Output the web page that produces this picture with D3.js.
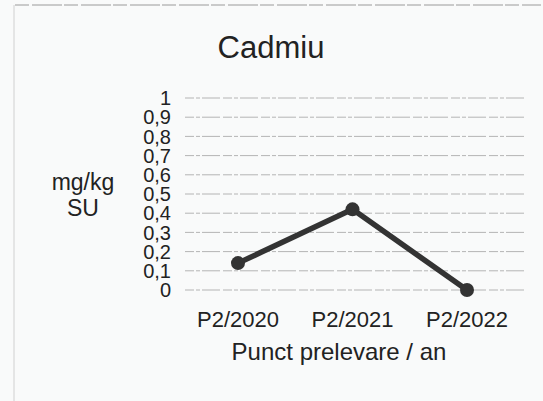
<!DOCTYPE html>
<html>
<head>
<meta charset="utf-8">
<script src="https://cdn.jsdelivr.net/npm/d3@7"></script>
<style>
  body { margin: 0; background: #fafafa; }
  text { font-family: "Liberation Sans", Arial, sans-serif; fill: #222; }
</style>
</head>
<body>
<div id="chart"></div>
<script>
const categories = ["P2/2020", "P2/2021", "P2/2022"]
const values = [0.14, 0.42, 0.0]
const tickValues = [0, 0.1, 0.2, 0.3, 0.4, 0.5, 0.6, 0.7, 0.8, 0.9, 1]

const width = 543
const height = 401

const svg = d3.select("#chart")
    .append("svg")
    .attr("width", width)
    .attr("height", height)

// frame of the scanned box
svg.append("rect")
    .attr("x", 0).attr("y", 0)
    .attr("width", width).attr("height", height)
    .attr("fill", "#f9fafa")
svg.append("line")
    .attr("x1", 15).attr("x2", 541).attr("y1", 5).attr("y2", 5)
    .attr("stroke", "#9a9a9a").attr("stroke-width", 1)
    .attr("stroke-dasharray", "14 3 30 2")
svg.append("line")
    .attr("x1", 14).attr("x2", 14).attr("y1", 5).attr("y2", 401)
    .attr("stroke", "#d0d0d0").attr("stroke-width", 1)

let y = d3.scaleLinear().domain([0, 1]).range([290, 98])
let x = d3.scalePoint().domain(categories).range([238, 467])

// gridlines
svg.append("g")
    .selectAll("line")
    .data(tickValues)
    .enter().append("line")
    .attr("x1", 185).attr("x2", 527)
    .attr("y1", d => y(d)).attr("y2", d => y(d))
    .attr("stroke", "#b4b4b4")
    .attr("stroke-width", 1)
    .attr("stroke-dasharray", "9 2 4 2 18 3")

// y tick labels, stacked tight like the original
const fmt = d => d3.format(".1~f")(d).replace(".", ",")
svg.append("g")
    .selectAll("text")
    .data(tickValues)
    .enter().append("text")
    .attr("x", 171)
    .attr("y", d => y(d))
    .attr("dy", "0.36em")
    .attr("text-anchor", "end")
    .attr("font-size", 20)
    .text(fmt)

// y axis title
svg.append("text")
    .attr("x", 83).attr("y", 190)
    .attr("text-anchor", "middle")
    .attr("font-size", 23)
    .text("mg/kg")
svg.append("text")
    .attr("x", 83).attr("y", 216)
    .attr("text-anchor", "middle")
    .attr("font-size", 23)
    .text("SU")

// x tick labels
svg.append("g")
    .selectAll("text")
    .data(categories)
    .enter().append("text")
    .attr("x", d => x(d))
    .attr("y", 327)
    .attr("text-anchor", "middle")
    .attr("font-size", 22)
    .text(d => d)

svg.append("text")
    .attr("x", 339).attr("y", 360)
    .attr("text-anchor", "middle")
    .attr("font-size", 24)
    .text("Punct prelevare / an")

svg.append("text")
    .attr("x", 271).attr("y", 58)
    .attr("text-anchor", "middle")
    .attr("font-size", 31)
    .text("Cadmiu")

// series line + markers
const line = d3.line()
    .x((d, i) => x(categories[i]))
    .y(d => y(d))

svg.append("path")
    .datum(values)
    .attr("d", line)
    .attr("fill", "none")
    .attr("stroke", "#333")
    .attr("stroke-width", 5.5)
    .attr("stroke-linejoin", "round")

svg.append("g")
    .selectAll("circle")
    .data(values)
    .enter().append("circle")
    .attr("cx", (d, i) => x(categories[i]))
    .attr("cy", d => y(d))
    .attr("r", 7)
    .attr("fill", "#333")
</script>
</body>
</html>
